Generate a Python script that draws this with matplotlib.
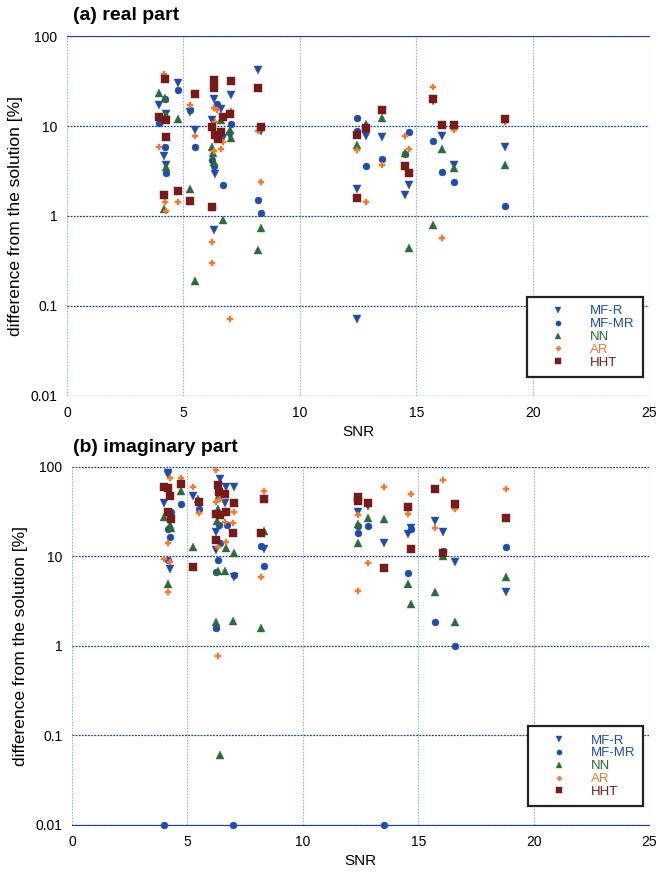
import numpy as np
import matplotlib
matplotlib.use('Agg')
import matplotlib.pyplot as plt
from matplotlib.ticker import FixedLocator, FixedFormatter, NullLocator

plt.rcParams['font.family'] = ['Liberation Sans', 'DejaVu Sans']

# ---- (a) real part : SNR / difference [%] per method ----
real_mfr_snr = [3.97, 4.26, 4.16, 4.26, 4.76, 5.28, 5.5, 6.32, 6.61, 6.21, 6.68, 7.0, 7.04, 6.36, 6.32, 8.2, 8.32,
                12.45, 12.85, 13.52, 14.54, 14.69, 15.73, 16.11, 16.61, 18.82, 12.45]
real_mfr_val = [17.2, 13.6, 4.7, 3.7, 30, 14.4, 9.1, 19.9, 15.4, 11.7, 7.3, 7.7, 22.2, 2.9, 0.69, 42, 8.9,
                2.0, 7.8, 7.5, 1.69, 2.19, 19, 7.8, 3.65, 5.9, 0.071]

real_mfmr_snr = [4.76, 4.22, 5.28, 3.97, 5.5, 4.19, 4.26, 6.44, 7.04, 6.22, 6.32, 6.68, 8.2, 6.22, 8.32,
                 12.45, 12.45, 12.85, 13.52, 14.69, 14.54, 15.73, 16.11, 16.61, 18.82]
real_mfmr_val = [25.2, 20, 14.9, 10.8, 5.8, 5.9, 3.0, 17.5, 10.5, 4.15, 3.6, 2.2, 1.5, 1.27, 1.08,
                 12.4, 8.8, 3.6, 4.3, 8.55, 4.9, 6.9, 3.08, 2.37, 1.28]

real_nn_snr = [3.97, 4.22, 4.26, 4.76, 4.26, 5.28, 4.16, 5.5, 6.61, 7.0, 7.04, 6.21, 6.25, 6.32, 6.68, 8.32, 8.2,
               12.85, 13.52, 12.45, 14.54, 14.69, 16.11, 16.61, 15.73, 18.82]
real_nn_val = [23.5, 20.5, 13.3, 12.1, 3.47, 2.0, 1.21, 0.19, 11.7, 9.1, 7.3, 5.9, 5.0, 4.0, 0.91, 0.74, 0.42,
               10.6, 12.4, 6.2, 5.05, 0.44, 5.6, 3.4, 0.80, 3.7]

real_ar_snr = [4.16, 5.28, 5.5, 3.97, 4.19, 4.76, 4.26, 6.32, 6.44, 7.04, 6.35, 8.2, 6.68, 6.61, 6.32, 8.32,
               6.22, 6.22, 7.0, 12.45, 12.85, 13.52, 14.54, 14.69, 15.73, 16.61, 16.11, 18.82]
real_ar_val = [37.9, 17, 7.7, 5.8, 1.42, 1.42, 1.13, 15.8, 15.2, 14.5, 11.2, 8.7, 6.6, 5.6, 5.3, 2.4,
               0.52, 0.30, 0.071, 5.45, 1.42, 3.7, 7.8, 5.55, 27.4, 9.1, 0.57, 11.2]

real_hht_snr = [4.19, 5.5, 3.97, 4.26, 4.26, 4.76, 4.16, 5.28, 6.32, 7.04, 6.32, 8.2, 6.68, 7.0, 6.22, 8.32,
                6.61, 6.35, 6.47, 6.22, 12.85, 12.45, 13.52, 12.45, 14.54, 14.69, 15.73, 16.11, 16.61, 18.82]
real_hht_val = [33.6, 22.6, 12.6, 11.7, 7.5, 1.88, 1.73, 1.46, 32.5, 32, 26.3, 26.3, 12.7, 13.5, 9.7, 9.7,
                8.5, 8.0, 7.2, 1.25, 9.6, 7.9, 14.9, 1.58, 3.56, 3.0, 20, 10.3, 10.3, 11.9]

# ---- (b) imaginary part ----
imag_mfr_snr = [4.17, 4.17, 5.26, 3.97, 4.24, 6.41, 6.68, 7.04, 6.61, 6.22, 6.22, 7.0, 8.32,
                12.83, 12.4, 13.51, 14.67, 14.56, 15.72, 16.08, 16.61, 18.81]
imag_mfr_val = [86, 80, 47, 38.9, 7.2, 72, 60, 60, 39, 18.8, 11.7, 5.9, 12,
                36, 31, 14, 20.9, 17.6, 24.8, 18.8, 8.6, 4.0]

imag_mfmr_snr = [4.74, 5.5, 4.28, 4.17, 4.24, 4.14, 3.97, 6.37, 6.7, 6.41, 6.32, 6.22, 7.04, 8.2, 8.32, 6.22,
                 6.98, 12.4, 12.83, 12.4, 14.67, 14.56, 16.08, 15.72, 16.61, 18.81, 13.51]
imag_mfmr_val = [38, 33.5, 31, 20, 16.6, 9.1, 0.01, 22.3, 22.3, 14.2, 9.1, 6.7, 6.2, 13, 7.8, 1.6,
                 0.01, 21.9, 21.8, 18.1, 20, 6.56, 11.5, 1.86, 1.0, 12.8, 0.01]

imag_nn_snr = [4.74, 5.47, 3.97, 4.25, 4.28, 5.26, 4.17, 6.37, 6.34, 6.29, 6.68, 7.04, 8.34, 6.32, 6.61,
               6.22, 6.98, 8.2, 6.41, 12.83, 13.51, 12.4, 12.4, 14.56, 14.67, 16.08, 15.72, 16.61, 18.81]
imag_nn_val = [54, 44, 27.7, 22.3, 20.5, 12.8, 4.9, 48, 33.5, 25, 12.3, 10.8, 19.3, 6.9, 6.9,
               1.86, 1.9, 1.57, 0.061, 27, 26, 22.9, 14, 4.9, 2.94, 10.2, 4.0, 1.86, 5.8]

imag_ar_snr = [4.25, 4.74, 5.26, 5.5, 4.17, 3.97, 4.25, 4.14, 6.22, 6.41, 6.22, 7.03, 6.61, 6.98, 6.68, 6.34,
               8.31, 8.2, 6.34, 13.51, 12.4, 12.83, 12.4, 14.67, 14.56, 16.08, 16.61, 15.72, 18.81]
imag_ar_val = [75, 75, 60, 30.7, 14, 9.25, 8.6, 4.0, 91.8, 43.6, 40.7, 31, 24.3, 23.3, 14.6, 12.6,
               54, 5.8, 0.77, 60, 28.9, 8.35, 4.1, 49.2, 29.6, 71, 33.5, 20.5, 56]

imag_hht_snr = [3.97, 4.17, 4.74, 4.24, 5.5, 4.17, 4.28, 5.26, 6.31, 6.37, 6.61, 7.04, 8.31, 6.22, 6.41, 6.68,
                6.98, 8.2, 6.22, 12.4, 12.4, 12.83, 13.51, 14.56, 14.67, 15.72, 16.61, 16.08, 18.81]
imag_hht_val = [59.8, 58, 63.7, 47.5, 40.7, 31.5, 26, 7.5, 62.5, 52.6, 49.5, 39.6, 43.6, 29.4, 28.9, 31,
                18.1, 18.1, 15.2, 46, 41.7, 39, 7.35, 35.8, 12.2, 56, 38.4, 11, 26.5]

labels = ['MF-R', 'MF-MR', 'NN', 'AR', 'HHT']
colors = ['#1e4bad', '#1e4bad', '#2b6b3a', '#f07a30', '#771a1a']
markers = ['v', 'o', '^', 'P', 's']
msizes = [5.5, 5, 5.5, 4.6, 5.5]

yticks = [0.01, 0.1, 1, 10, 100]
ytick_labels = ['0.01', '0.1', '1', '10', '100']

fig = plt.figure(figsize=(6.58, 8.72), dpi=100)
ax_a = fig.add_axes([67 / 658, 0.5459, 582 / 658, 0.4128])
ax_b = fig.add_axes([72 / 658, 0.0539, 577 / 658, 0.4109])

panels = [
    (ax_a, [(real_mfr_snr, real_mfr_val), (real_mfmr_snr, real_mfmr_val), (real_nn_snr, real_nn_val),
            (real_ar_snr, real_ar_val), (real_hht_snr, real_hht_val)]),
    (ax_b, [(imag_mfr_snr, imag_mfr_val), (imag_mfmr_snr, imag_mfmr_val), (imag_nn_snr, imag_nn_val),
            (imag_ar_snr, imag_ar_val), (imag_hht_snr, imag_hht_val)]),
]

for ax, series in panels:
    for (x, y), lab, c, m, ms in zip(series, labels, colors, markers, msizes):
        ax.plot(x, y, linestyle='none', marker=m, markersize=ms, color=c,
                markeredgewidth=0.3, label=lab, clip_on=False, zorder=3)
    ax.set_yscale('log')
    ax.set_xlim(0, 25)
    ax.set_ylim(0.01, 100)
    ax.set_xticks([0, 5, 10, 15, 20, 25])
    ax.yaxis.set_major_locator(FixedLocator(yticks))
    ax.yaxis.set_major_formatter(FixedFormatter(ytick_labels))
    ax.yaxis.set_minor_locator(NullLocator())
    ax.tick_params(length=0, labelsize=10, pad=7)
    for s in ax.spines.values():
        s.set_visible(False)
    ax.grid(axis='y', color='#1d3f9e', linestyle=(0, (1.5, 1)), linewidth=0.9)
    ax.grid(axis='x', color='#9fb3dc', linestyle=(0, (1.5, 1.2)), linewidth=0.8)
    ax.set_axisbelow(True)
    ax.set_xlabel('SNR', fontsize=11, labelpad=4)
    ax.set_ylabel('difference from the solution [%]', fontsize=12.5, labelpad=5)

    leg = ax.legend(loc='lower left', bbox_to_anchor=(0.79, 0.053, 0.2, 0.228), mode='expand',
                    borderaxespad=0, fontsize=9.5, labelspacing=0.05, handlelength=3.6,
                    handletextpad=0.6, borderpad=0.6, fancybox=False, framealpha=1,
                    edgecolor='#222222', numpoints=1, markerscale=0.75)
    leg.get_frame().set_linewidth(1.6)
    for t, c in zip(leg.get_texts(), colors):
        t.set_color(c)

ax_a.spines['top'].set_visible(True)
ax_a.spines['top'].set_color('#1d3f9e')
ax_b.spines['bottom'].set_visible(True)
ax_b.spines['bottom'].set_color('#1d3f9e')

fig.text(73 / 658, 1 - 16 / 872, '(a) real part', fontsize=14, fontweight='bold', va='center', ha='left')
fig.text(73 / 658, 1 - 447 / 872, '(b) imaginary part', fontsize=14, fontweight='bold', va='center', ha='left')

fig.savefig('out.png', dpi=100)
